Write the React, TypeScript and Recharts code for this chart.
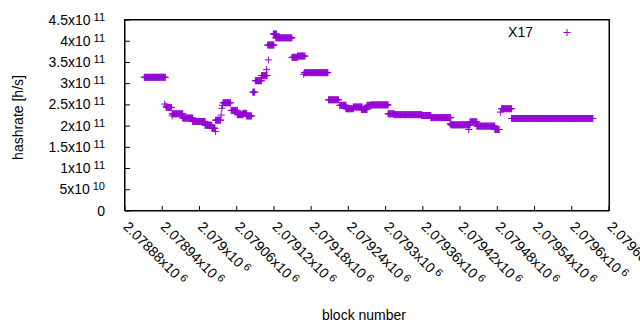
import { ScatterChart, Scatter, XAxis, YAxis, ReferenceLine } from 'recharts';

const COLOR = '#9400d3';
const FONT = "'Liberation Sans', Arial, sans-serif";

// runs of blocks with the same hashrate (units of 1e11 h/s)
const runStart = [
  2078911, 2078947, 2078956, 2078973, 2078989, 2079009, 2079020, 2079026, 2079038, 2079051,
  2079061, 2079070, 2079076, 2079086, 2079090, 2079100, 2079110, 2079119, 2079123, 2079149,
  2079158, 2079169, 2079208, 2079226, 2079236, 2079248, 2079261, 2079270, 2079277, 2079304,
  2079314, 2079358, 2079373, 2079405, 2079436, 2079447, 2079476, 2079487, 2079503,
];
const runEnd = [
  2078945, 2078955, 2078973, 2078989, 2079009, 2079020, 2079025, 2079034, 2079050, 2079061,
  2079070, 2079076, 2079084, 2079089, 2079100, 2079109, 2079120, 2079124, 2079149, 2079158,
  2079170, 2079207, 2079224, 2079236, 2079248, 2079262, 2079270, 2079277, 2079304, 2079314,
  2079358, 2079373, 2079405, 2079436, 2079447, 2079476, 2079483, 2079503, 2079634,
];
const runHashrate = [
  3.15, 2.44, 2.29, 2.19, 2.11, 2.02, 1.95, 2.14, 2.55, 2.37,
  2.27, 2.30, 2.24, 2.80, 3.07, 3.19, 3.91, 4.17, 4.08, 3.62,
  3.65, 3.26, 2.62, 2.49, 2.41, 2.45, 2.39, 2.49, 2.50, 2.29,
  2.27, 2.25, 2.20, 2.03, 2.10, 2.00, 1.92, 2.41, 2.18,
];

// isolated points
const singleBlock = [2078944, 2078946, 2078956, 2079026, 2079035, 2079036, 2079037, 2079108, 2079111, 2079168, 2079404, 2079434, 2079485];
const singleHashrate = [2.52, 2.47, 2.24, 1.87, 2.26, 2.42, 2.49, 3.33, 3.56, 3.22, 2.06, 1.92, 2.33];

const xTicks = [
  2078880, 2078940, 2079000, 2079060, 2079120, 2079180, 2079240,
  2079300, 2079360, 2079420, 2079480, 2079540, 2079600, 2079660,
];
const yTicks = [0, 5e10, 1e11, 1.5e11, 2e11, 2.5e11, 3e11, 3.5e11, 4e11, 4.5e11];

const points: { block: number; hashrate: number }[] = [];
runStart.forEach((s, i) => {
  for (let b = s; b <= runEnd[i]; b++) points.push({ block: b, hashrate: runHashrate[i] * 1e11 });
});
singleBlock.forEach((b, i) => points.push({ block: b, hashrate: singleHashrate[i] * 1e11 }));

function sci(v: number) {
  if (v === 0) return { mant: '0', exp: '' };
  const exp = Math.floor(Math.log10(v) + 1e-9);
  const mant = parseFloat((v / Math.pow(10, exp)).toPrecision(6)).toString();
  return { mant, exp: String(exp) };
}

const Cross = (props: any) => {
  const { cx, cy } = props;
  if (cx == null || cy == null) return null;
  return (
    <path
      d={`M${cx - 3.5},${cy}H${cx + 3.5}M${cx},${cy - 3.5}V${cy + 3.5}`}
      stroke={COLOR}
      strokeWidth={1}
      fill="none"
    />
  );
};

const BottomTick = ({ x, y, payload }: any) => {
  const { mant, exp } = sci(payload.value);
  return (
    <g>
      <path d={`M${x},${y}V${y - 5}`} stroke="#000" strokeWidth={1} fill="none" />
      <text
        transform={`translate(${x + 1},${y + 13}) rotate(45)`}
        fontSize={14}
        fontFamily={FONT}
        fill="#000"
        dy="0.35em"
      >
        {mant}x10
        <tspan dx={3} dy={-4} fontSize={11}>{exp}</tspan>
      </text>
    </g>
  );
};

const TopTick = ({ x, y }: any) => <path d={`M${x},${y}V${y + 5}`} stroke="#000" strokeWidth={1} fill="none" />;

const LeftTick = ({ x, y, payload }: any) => {
  const { mant, exp } = sci(payload.value);
  return (
    <g>
      <path d={`M${x},${y}H${x + 5}`} stroke="#000" strokeWidth={1} fill="none" />
      <text x={x - 20} y={y + 4.5} textAnchor="end" fontSize={14} fontFamily={FONT} fill="#000">
        {exp ? `${mant}x10` : mant}
        {exp && <tspan dx={3} dy={-4} fontSize={11}>{exp}</tspan>}
      </text>
    </g>
  );
};

const RightTick = ({ x, y }: any) => <path d={`M${x},${y}H${x - 5}`} stroke="#000" strokeWidth={1} fill="none" />;

export default function App() {
  return (
    <div style={{ position: 'absolute', left: 0, top: 0, width: 640, height: 330, background: '#fff' }}>
      <ScatterChart width={640} height={330} margin={{ top: 20, right: 31, bottom: 0, left: 0 }}>
        <XAxis
          type="number"
          dataKey="block"
          domain={[2078880, 2079660]}
          ticks={xTicks}
          interval={0}
          height={119}
          tickSize={0}
          tickMargin={0}
          tickLine={false}
          axisLine={false}
          tick={<BottomTick />}
        />
        <XAxis
          xAxisId="top"
          orientation="top"
          type="number"
          dataKey="block"
          domain={[2078880, 2079660]}
          ticks={xTicks}
          interval={0}
          height={0}
          tickSize={0}
          tickMargin={0}
          tickLine={false}
          axisLine={false}
          tick={<TopTick />}
        />
        <YAxis
          type="number"
          dataKey="hashrate"
          domain={[0, 4.5e11]}
          ticks={yTicks}
          interval={0}
          width={125}
          tickSize={0}
          tickMargin={0}
          tickLine={false}
          axisLine={false}
          tick={<LeftTick />}
        />
        <YAxis
          yAxisId="right"
          orientation="right"
          type="number"
          dataKey="hashrate"
          domain={[0, 4.5e11]}
          ticks={yTicks}
          interval={0}
          width={0}
          tickSize={0}
          tickMargin={0}
          tickLine={false}
          axisLine={false}
          tick={<RightTick />}
        />
        <ReferenceLine y={0} stroke="#000" strokeWidth={1} ifOverflow="visible" />
        <ReferenceLine y={4.5e11} stroke="#000" strokeWidth={1} ifOverflow="visible" />
        <ReferenceLine x={2078880} stroke="#000" strokeWidth={1} ifOverflow="visible" />
        <ReferenceLine x={2079660} stroke="#000" strokeWidth={1} ifOverflow="visible" />
        <Scatter data={points} shape={Cross} isAnimationActive={false} />
        <g>
          <text transform="translate(22.5,117.5) rotate(-90)" textAnchor="middle" fontSize={14} fontFamily={FONT} fill="#000">
            hashrate [h/s]
          </text>
          <text x={364} y={320} textAnchor="middle" fontSize={14} fontFamily={FONT} fill="#000">
            block number
          </text>
          <text x={533} y={37} textAnchor="end" fontSize={14} fontFamily={FONT} fill="#000">
            X17
          </text>
          <path d="M563.5,32.5H570.5M567,29V36" stroke={COLOR} fill="none" />
        </g>
      </ScatterChart>
      <div
        style={{
          position: 'absolute',
          left: 124,
          top: 19,
          width: 486,
          height: 192,
          border: '1px solid #000',
          boxSizing: 'border-box',
          pointerEvents: 'none',
        }}
      />
    </div>
  );
}
